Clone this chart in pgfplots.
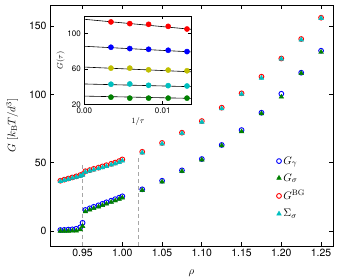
\documentclass[border=0pt]{standalone}
\usepackage[no-math]{fontspec}
\setmainfont{TeX Gyre Heros}
\usepackage{pgfplots}
\usepackage{pgfplotstable}
\pgfplotsset{compat=1.18}
\definecolor{mred}{rgb}{1,0,0}
\definecolor{mblue}{rgb}{0,0,1}
\definecolor{mgreen}{rgb}{0,0.5,0}
\definecolor{mcyan}{rgb}{0,0.75,0.75}
\definecolor{myellow}{rgb}{0.75,0.75,0}
\pgfplotstableread{
x     gg     gs
0.922 0.7    0.0
0.927 0.8    0.0
0.932 1.0    0.0
0.937 1.2    0.1
0.942 1.6    0.2
0.947 2.7    1.0
0.950 6.0    3.5
0.9535 15.4  14.2
0.959 16.6   15.5
0.964 17.7   16.6
0.970 18.8   17.7
0.975 19.9   18.8
0.980 21.0   19.9
0.986 22.2   21.1
0.991 23.3   22.2
0.996 24.4   23.3
1.000 25.4   24.3
1.025 30.5   29.8
1.050 36.8   36.0
1.075 44.4   43.7
1.100 52.7   52.2
1.125 63.0   62.5
1.150 73.9   72.8
1.175 86.6   86.0
1.200 100.5  98.2
1.225 115.9  115.5
1.250 132.0  131.0
}\lowtab
\pgfplotstableread{
x     bg     ss
0.922 36.8   36.3
0.927 37.6   37.1
0.932 38.4   37.9
0.937 39.2   38.7
0.942 40.0   39.5
0.947 40.9   40.3
0.950 41.6   41.0
0.9535 43.8  43.2
0.959 44.6   44.0
0.964 45.5   44.8
0.970 46.4   45.7
0.975 47.3   46.5
0.980 48.2   47.4
0.986 49.2   48.4
0.991 50.1   49.3
0.996 51.2   50.3
1.000 52.4   51.4
1.025 58.0   57.3
1.050 64.5   63.8
1.075 72.0   71.5
1.100 80.5   79.8
1.125 90.3   89.6
1.150 100.8  100.2
1.175 113.0  112.0
1.200 126.3  126.0
1.225 140.6  140.0
1.250 156.2  155.8
}\uptab
\begin{document}
\begin{tikzpicture}
\useasboundingbox (-50bp,-34bp) rectangle (290bp,246bp);
\begin{axis}[
  at={(0,0)}, anchor=south west,
  scale only axis, width=283bp, height=241bp,
  xmin=0.909, xmax=1.265, ymin=-11, ymax=165.5,
  xtick={0.95,1.00,1.05,1.10,1.15,1.20,1.25},
  ytick={0,50,100,150},
  xticklabel style={/pgf/number format/.cd, fixed, fixed zerofill, precision=2},
  /pgf/number format/assume math mode=true,
  tick align=inside, major tick length=4bp,
  axis line style={line width=0.9bp}, every tick/.style={line width=0.8bp, black},
  tick label style={font=\fontsize{10.5}{12}\selectfont},
  xlabel={$\rho$}, ylabel={$G\ [k_{\mathrm{B}}T/d^3]$},
  x label style={at={(axis description cs:0.5,-0.112)}, anchor=center, font=\fontsize{11}{12}\selectfont},
  y label style={at={(axis description cs:-0.134,0.5)}, anchor=center, font=\fontsize{11}{12}\selectfont},
  legend style={draw=none, fill=none, at={(0.80,0.38)}, anchor=north west,
    font=\fontsize{11}{12}\selectfont, row sep=4bp, inner sep=0pt},
  legend cell align=left,
  legend image code/.code={\draw plot coordinates {(0.12cm,0cm)};},
  clip=false,
]
\addplot[forget plot, gray!70, line width=0.9bp, dash pattern=on 4bp off 3bp] coordinates {(0.95,-11) (0.95,48)};
\addplot[forget plot, gray!70, line width=0.9bp, dash pattern=on 4bp off 3bp] coordinates {(1.02,-11) (1.02,55)};
\addplot[only marks, mark=o, mark size=2.4bp, mblue, mark options={line width=0.9bp}] table[x=x, y=gg] {\lowtab};
\addlegendentry{$G_\gamma$}
\addplot[only marks, mark=triangle*, mark size=2.7bp, mgreen] table[x=x, y=gs] {\lowtab};
\addlegendentry{$G_\sigma$}
\addplot[only marks, mark=o, mark size=2.4bp, mred, mark options={line width=0.9bp}] table[x=x, y=bg] {\uptab};
\addlegendentry{$G^{\mathrm{BG}}$}
\addplot[only marks, mark=triangle*, mark size=2.7bp, mcyan] table[x=x, y=ss] {\uptab};
\addlegendentry{$\Sigma_\sigma$}
\end{axis}
\begin{axis}[
  at={(34.3bp,141.5bp)}, anchor=south west,
  scale only axis, width=107.4bp, height=88.5bp,
  xmin=0, xmax=0.0137, ymin=20, ymax=120,
  xtick={0,0.01}, ytick={20,60,100},
  xticklabel style={/pgf/number format/.cd, fixed, fixed zerofill, precision=2},
  scaled x ticks=false,
  /pgf/number format/assume math mode=true,
  tick align=inside, major tick length=3.5bp,
  axis line style={line width=0.9bp}, every tick/.style={line width=0.8bp, black},
  tick label style={font=\fontsize{8}{9}\selectfont},
  xlabel={$1/\tau$}, ylabel={$G(\tau)$},
  x label style={at={(axis description cs:0.5,-0.19)}, anchor=center, font=\fontsize{8.5}{10}\selectfont},
  y label style={at={(axis description cs:-0.22,0.5)}, anchor=center, font=\fontsize{8}{10}\selectfont},
  axis background/.style={fill=white},
]
\addplot[black, line width=0.6bp] coordinates {(0,116.3) (0.0137,104.9)};
\addplot[black, line width=0.6bp] coordinates {(0,85.8) (0.0137,79.4)};
\addplot[black, line width=0.6bp] coordinates {(0,62.3) (0.0137,56.9)};
\addplot[black, line width=0.6bp] coordinates {(0,43.2) (0.0137,40.1)};
\addplot[black, line width=0.6bp] coordinates {(0,29.5) (0.0137,26.9)};
\addplot[only marks, mark=*, mark size=2.6bp, mred] coordinates {(0.0034,113.3) (0.0058,111.4) (0.0082,110.6) (0.0107,108.3) (0.0131,105.3)};
\addplot[only marks, mark=*, mark size=2.6bp, mblue] coordinates {(0.0034,84.7) (0.0058,83.2) (0.0082,82.4) (0.0107,81.3) (0.0131,79.8)};
\addplot[only marks, mark=*, mark size=2.6bp, myellow] coordinates {(0.0034,61.1) (0.0058,61.1) (0.0082,59.2) (0.0107,58.9) (0.0131,58.1)};
\addplot[only marks, mark=*, mark size=2.6bp, mcyan] coordinates {(0.0034,42.9) (0.0058,43.2) (0.0082,41.7) (0.0107,41.3) (0.0131,40.9)};
\addplot[only marks, mark=*, mark size=2.6bp, mgreen] coordinates {(0.0034,28.3) (0.0058,27.2) (0.0082,27.2) (0.0107,27.2) (0.0131,27.2)};
\end{axis}
\end{tikzpicture}
\end{document}
